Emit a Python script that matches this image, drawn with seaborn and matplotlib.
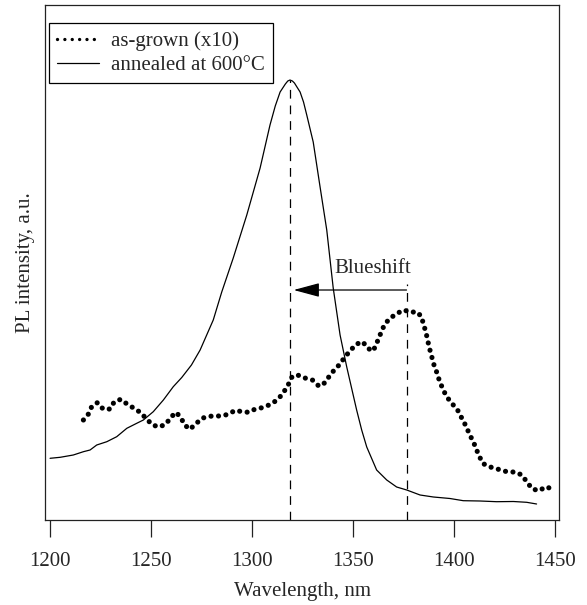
import matplotlib
matplotlib.use("Agg")
import matplotlib.pyplot as plt
from matplotlib.lines import Line2D
import seaborn as sns
import pandas as pd

# as-grown sample (x10)
wl_grown = [1216.5, 1219.0, 1220.6, 1223.4, 1226.4, 1229.7, 1231.7, 1235.0, 1238.3, 1241.6,
            1244.9, 1247.9, 1250.8, 1254.1, 1257.4, 1259.8, 1262.4, 1264.9, 1266.5, 1269.2,
            1272.1, 1275.2, 1278.6, 1281.8, 1285.1, 1288.5, 1291.7, 1295.0, 1298.4, 1301.6,
            1305.0, 1308.4, 1311.7, 1314.4, 1316.7, 1318.3, 1320.0, 1323.3, 1326.6, 1329.9,
            1333.2, 1336.1, 1338.1, 1340.7, 1343.6, 1345.7, 1348.5, 1351.5, 1354.8, 1357.3,
            1360.0, 1362.9, 1364.2, 1365.8, 1368.3, 1371.9, 1375.2, 1378.6, 1381.5, 1384.0,
            1384.8, 1385.8, 1386.6, 1387.3, 1388.1, 1389.0, 1389.8, 1391.1, 1392.2, 1393.4,
            1394.7, 1396.4, 1398.9, 1401.6, 1403.3, 1405.1, 1406.6, 1408.3, 1409.9, 1411.2,
            1412.5, 1414.2, 1417.3, 1420.6, 1423.9, 1427.2, 1430.5, 1433.8, 1436.3, 1438.9,
            1442.2, 1445.5, 1448.9]
pl_grown = [100, 106, 113.3, 117.3, 110.7, 111, 118, 120.7, 115.7, 111.7,
            107.3, 100.7, 95, 93, 96, 102.7, 107.7, 102, 95.3, 90.7,
            96, 101.7, 103.7, 104, 104, 106, 109.7, 108.3, 107.7, 111,
            112.3, 115, 119, 124.3, 131, 136.7, 144, 144.7, 141.7, 140,
            133.7, 137.3, 143.3, 150, 156, 162.3, 169, 175.7, 178.3, 171.7,
            169, 182.3, 189.3, 196, 201.7, 206.7, 210, 207.7, 208.3, 203.3,
            196, 190, 183.3, 176.7, 170, 163.3, 156.7, 150, 142.7, 136.3,
            130, 123.3, 116.7, 110.7, 104, 97.3, 90.7, 83.3, 76.7, 70,
            64, 56.7, 53.3, 51.7, 49.3, 48, 48, 44.7, 37.3, 31,
            29.3, 33.3, 30.7]

# annealed at 600C, solid curve
wl_ann = [1200, 1205, 1211.5, 1216.5, 1219.8, 1223.1, 1228.1, 1233, 1238, 1242.9,
          1246.2, 1251.1, 1256.1, 1261, 1265.2, 1270, 1274.3, 1280.8, 1285, 1290.7,
          1297.4, 1304, 1308.9, 1311.5, 1313.9, 1316.5, 1317.7, 1318.8, 1320, 1321,
          1323.8, 1325.5, 1327.1, 1330.3, 1333.7, 1337, 1340.2, 1343.6, 1346.9, 1351.8,
          1354.3, 1356.8, 1361.7, 1366.7, 1371.6, 1376.6, 1383.2, 1389.8, 1398, 1404.6,
          1412.9, 1421.1, 1429.4, 1436, 1440.9]
pl_ann = [61.7, 62.7, 65, 68.3, 70, 75, 78.3, 83.3, 91.7, 96.7,
          100, 108.3, 120, 133.3, 142.5, 155, 170, 200, 228, 262,
          305, 352, 395, 414, 428, 436, 439, 440, 439, 437,
          428, 418, 405, 378, 333, 290, 232, 185, 153, 110,
          90, 73, 50, 40, 33, 30, 25, 23, 21.5, 19.3,
          19, 18.3, 18.5, 17.7, 16]

# peak markers
peak_ann = 1319
peak_grown = 1376.5
peak_ann_h = 440
peak_grown_h = 236
arrow_h = 230

xticks = [1200, 1250, 1300, 1350, 1400, 1450]

sns.set_theme(style="white")
plt.rcParams["font.family"] = ["Liberation Serif", "DejaVu Serif"]
plt.rcParams["axes.edgecolor"] = "#222222"
plt.rcParams["axes.linewidth"] = 0.9

df_grown = pd.DataFrame({"wl": wl_grown, "pl": pl_grown})
df_ann = pd.DataFrame({"wl": wl_ann, "pl": pl_ann})

fig = plt.figure(figsize=(5.87, 6.05), dpi=100)
ax = fig.add_axes([0.0767, 0.1405, 0.8756, 0.8512])

sns.lineplot(data=df_grown, x="wl", y="pl", ax=ax, color="black", lw=3.7,
             linestyle=(0, (0.01, 1.45)), dash_capstyle="round",
             estimator=None, sort=False)
sns.lineplot(data=df_ann, x="wl", y="pl", ax=ax, color="black", lw=0.9,
             estimator=None, sort=False)

ax.plot([peak_ann, peak_ann], [0, peak_ann_h], color="black", lw=0.9, linestyle=(0, (7, 5.5)))
ax.plot([peak_grown, peak_grown], [0, peak_grown_h], color="black", lw=0.9, linestyle=(0, (7, 5.5)))
ax.annotate("", xy=(peak_ann + 1.6, arrow_h), xytext=(peak_grown, arrow_h),
            arrowprops=dict(arrowstyle="-|>,head_length=1.6,head_width=0.43",
                            mutation_scale=10, color="black", lw=0.9,
                            shrinkA=0, shrinkB=0))
ax.text(1360, 252, "Blueshift", fontsize=15, ha="center", va="center")

ax.set_xlim(1197.5, 1452)
ax.set_ylim(0, 515)
ax.set_xticks(xticks)
ax.set_yticks([])
ax.tick_params(axis="x", direction="out", length=12, width=0.9, color="#222222",
               labelsize=15, pad=11, bottom=True)
ax.set_xlabel("Wavelength, nm", fontsize=15, labelpad=8)
ax.set_ylabel("PL intensity, a.u.", fontsize=15, labelpad=7)

# legend handles: the sample dots in the key are smaller than on the curve
handles = [
    Line2D([], [], color="black", lw=2.4, linestyle=(0, (0.01, 2.2)), dash_capstyle="round"),
    Line2D([], [], color="black", lw=0.9),
]
leg = ax.legend(handles, ["as-grown (x10)", "annealed at 600°C"],
                loc="upper left", bbox_to_anchor=(0.008, 0.965), borderaxespad=0,
                fontsize=15, frameon=True, fancybox=False, framealpha=1,
                edgecolor="black", handlelength=2.0, handletextpad=0.55,
                labelspacing=0.2, borderpad=0.4)
leg.get_frame().set_linewidth(0.9)

fig.savefig("out.png", dpi=100)
